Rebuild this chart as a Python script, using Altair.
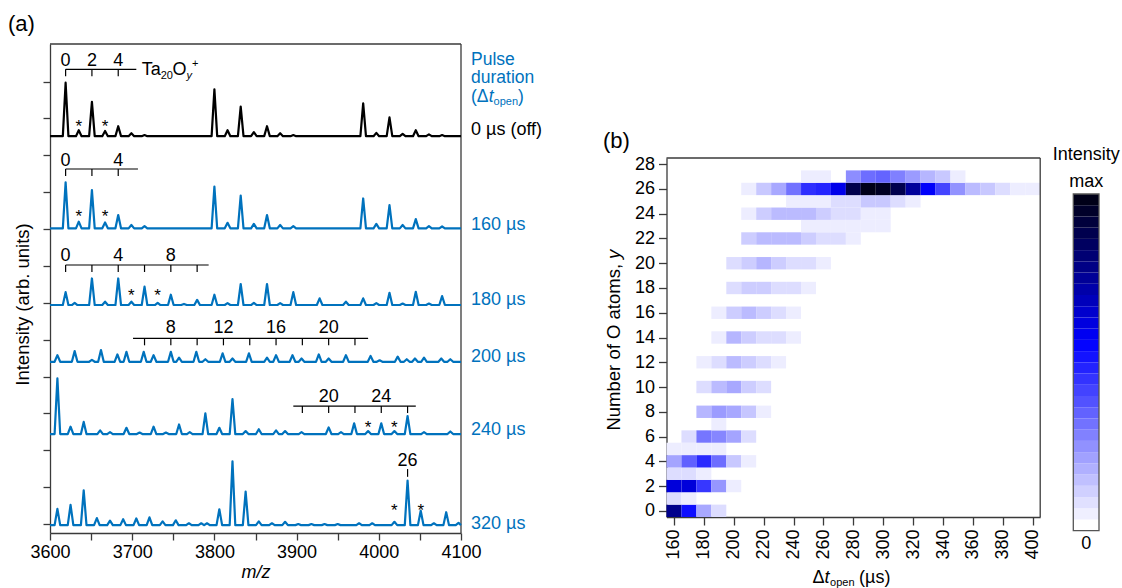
import altair as alt
import pandas as pd

FONT = "Liberation Sans"
BLUE = "#0072BD"
BLACK = "#000000"
FRAME = "#3a3a3a"

# ======================= Panel (a): mass spectra =======================
trace_names = ["0 µs (off)", "160 µs", "180 µs", "200 µs", "240 µs", "320 µs"]
trace_colors = [BLACK, BLUE, BLUE, BLUE, BLUE, BLUE]
trace_offsets = [10.52, 8.02, 5.94, 4.40, 2.44, -0.03]
label_levels = [10.54, 7.97, 5.93, 4.39, 2.41, -0.135]

mz_off = [3619, 3635, 3651, 3667, 3683, 3699, 3715, 3800, 3816, 3832, 3848, 3864, 3880, 3896,
          3981, 3997, 4013, 4029, 4045, 4061, 4077]
h_off = [1.45, 0.16, 0.93, 0.14, 0.27, 0.08, 0.03, 1.27, 0.16, 0.80, 0.11, 0.27, 0.08, 0.03,
         0.89, 0.09, 0.51, 0.06, 0.16, 0.05, 0.03]

mz_160 = [3619, 3635, 3651, 3667, 3683, 3699, 3715, 3800, 3816, 3832, 3848, 3864, 3880, 3896,
          3981, 3997, 4013, 4029, 4045, 4061, 4077]
h_160 = [1.25, 0.18, 1.04, 0.16, 0.36, 0.09, 0.06, 1.13, 0.15, 0.89, 0.12, 0.36, 0.09, 0.06,
         0.81, 0.12, 0.63, 0.09, 0.25, 0.06, 0.05]

mz_180 = [3619, 3630, 3651, 3667, 3683, 3699, 3715, 3731, 3747, 3763, 3779, 3800, 3816, 3832,
          3848, 3864, 3880, 3896, 3928, 3960, 3981, 3997, 4013, 4029, 4045, 4061, 4077]
h_180 = [0.35, 0.06, 0.72, 0.09, 0.72, 0.09, 0.50, 0.06, 0.28, 0.03, 0.14, 0.28, 0.05, 0.57,
         0.06, 0.57, 0.05, 0.35, 0.18, 0.09, 0.18, 0.05, 0.33, 0.04, 0.36, 0.04, 0.24]

mz_200 = [3609, 3630, 3651, 3662, 3682, 3693, 3714, 3726, 3747, 3757, 3778, 3789, 3810, 3822,
          3842, 3864, 3875, 3895, 3906, 3927, 3939, 3960, 3990, 4001, 4023, 4034, 4044, 4055,
          4076, 4087]
h_200 = [0.18, 0.29, 0.05, 0.32, 0.20, 0.27, 0.27, 0.18, 0.27, 0.11, 0.27, 0.07, 0.23, 0.09,
         0.23, 0.11, 0.18, 0.18, 0.09, 0.20, 0.09, 0.18, 0.16, 0.04, 0.14, 0.07, 0.09, 0.11,
         0.09, 0.07]

mz_240 = [3609, 3625, 3641, 3661, 3673, 3693, 3709, 3726, 3741, 3757, 3770, 3789, 3806, 3822,
          3838, 3854, 3875, 3886, 3906, 3939, 3954, 3970, 3987, 4003, 4019, 4035, 4055, 4087]
h_240 = [1.51, 0.20, 0.33, 0.10, 0.05, 0.17, 0.04, 0.20, 0.04, 0.26, 0.05, 0.56, 0.17, 0.95,
         0.08, 0.13, 0.10, 0.08, 0.05, 0.18, 0.05, 0.29, 0.08, 0.29, 0.08, 0.49, 0.05, 0.07]

mz_320 = [3609, 3625, 3641, 3657, 3673, 3689, 3705, 3721, 3737, 3753, 3769, 3784, 3791, 3806,
          3822, 3838, 3854, 3870, 3886, 3902, 3918, 3934, 3950, 3976, 3992, 4019, 4035, 4051,
          4067, 4082, 4097]
h_320 = [0.44, 0.55, 0.94, 0.19, 0.12, 0.16, 0.18, 0.21, 0.10, 0.13, 0.05, 0.05, 0.05, 0.43,
         1.73, 0.91, 0.10, 0.05, 0.09, 0.03, 0.03, 0.03, 0.03, 0.05, 0.05, 0.09, 1.21, 0.39,
         0.05, 0.35, 0.06]

spectra_mz = [mz_off, mz_160, mz_180, mz_200, mz_240, mz_320]
spectra_h = [h_off, h_160, h_180, h_200, h_240, h_320]

# bracket annotations (Ta20Oy+ series markers)
bracket_y = [12.333, 9.629, 7.025, 5.037, 3.200]
bracket_from = [3619, 3619, 3619, 3701, 3896]
bracket_to = [3705, 3707, 3793, 3987, 4045]
bracket_ticks = [
    [3619, 3651, 3683],
    [3619, 3651, 3683],
    [3619, 3651, 3683, 3715, 3747, 3779],
    [3715, 3747, 3779, 3811, 3843, 3875, 3907, 3939, 3971],
    [3907, 3939, 3971, 4003, 4035],
]
bracket_label_y = [12.41, 9.724, 7.141, 5.172, 3.317]
bracket_labels = [
    [("0", 3619), ("2", 3651), ("4", 3683)],
    [("0", 3619), ("4", 3683)],
    [("0", 3619), ("4", 3683), ("8", 3747)],
    [("8", 3747), ("12", 3811), ("16", 3875), ("20", 3939)],
    [("20", 3939), ("24", 4003)],
]
peak26 = ("26", 4035, 1.573, 1.28, 1.49)
stars = [(3635, 10.621), (3667, 10.621), (3635, 8.191), (3667, 8.191), (3699, 6.038),
         (3731, 6.038), (3987, 2.468), (4019, 2.468), (4019, 0.206), (4051, 0.206)]

# ======================= Panel (b): heat map =======================
# O-atom number y -> (first Delta t_open in us, intensities every 10 us)
heat_rows = {
    0: (160, [0.78, 0.53, 0.19, 0.075]),
    1: (160, [0.075, 0.04]),
    2: (160, [0.63, 0.63, 0.44, 0.23, 0.04]),
    3: (160, [0.075, 0.075, 0.04]),
    4: (160, [0.20, 0.35, 0.47, 0.32, 0.12, 0.04]),
    5: (160, [0.04, 0.04, 0.04, 0.04]),
    6: (170, [0.075, 0.30, 0.265, 0.20, 0.075]),
    7: (190, [0.04]),
    8: (180, [0.16, 0.22, 0.19, 0.125, 0.04]),
    10: (180, [0.075, 0.15, 0.19, 0.11, 0.075]),
    12: (180, [0.04, 0.075, 0.15, 0.11, 0.075, 0.04]),
    14: (190, [0.04, 0.16, 0.11, 0.075, 0.075, 0.04]),
    16: (190, [0.04, 0.11, 0.15, 0.11, 0.075, 0.04]),
    18: (200, [0.075, 0.11, 0.11, 0.075, 0.075, 0.04]),
    20: (200, [0.075, 0.11, 0.16, 0.11, 0.075, 0.075, 0.04]),
    22: (210, [0.11, 0.15, 0.15, 0.15, 0.11, 0.075, 0.075, 0.04]),
    23: (250, [0.04, 0.04, 0.04, 0.04, 0.04, 0.04]),
    24: (210, [0.04, 0.11, 0.15, 0.15, 0.15, 0.11, 0.075, 0.075, 0.04, 0.04]),
    25: (240, [0.04, 0.04, 0.04, 0.075, 0.075, 0.12, 0.12, 0.075, 0.04]),
    26: (210, [0.04, 0.12, 0.19, 0.31, 0.46, 0.48, 0.60, 0.90, 1.00, 0.98, 0.90, 0.75, 0.57,
               0.41, 0.24, 0.15, 0.12, 0.075, 0.04, 0.04]),
    27: (250, [0.04, 0.04, 0.0, 0.25, 0.32, 0.34, 0.28, 0.22, 0.16, 0.12, 0.04]),
}
N_BANDS = 30

# ======================= build tables =======================
PEAK_HW = 3.4
line_rows = []
for name, col, off, mzs, hs in zip(trace_names, trace_colors, trace_offsets, spectra_mz, spectra_h):
    pts = [(3600, off)]
    for m, h in zip(mzs, hs):
        pts += [(m - PEAK_HW, off), (m, off + h), (m + PEAK_HW, off)]
    pts.append((4100, off))
    for i, (x, y) in enumerate(pts):
        line_rows.append({"trace": name, "color": col, "order": i, "x": min(x, 4100), "y": y})
lines_df = pd.DataFrame(line_rows)

brk_rows = []
for yb, a, b, ticks in zip(bracket_y, bracket_from, bracket_to, bracket_ticks):
    brk_rows.append({"x": a, "x2": b, "y": yb, "y2": yb})
    for t in ticks:
        brk_rows.append({"x": t, "x2": t, "y": yb, "y2": yb - 0.19})
brk_rows.append({"x": peak26[1], "x2": peak26[1], "y": peak26[3], "y2": peak26[4]})
brk_df = pd.DataFrame(brk_rows)

frameA = pd.DataFrame([{"x": 3600, "x2": 4100, "y": 13.02, "y2": 13.02},
                       {"x": 4100, "x2": 4100, "y": -0.244, "y2": 13.02}])

cols = ["text", "x", "y", "size", "color"]
txtA_center = []
for yl, labs in zip(bracket_label_y, bracket_labels):
    for s, m in labs:
        txtA_center.append((s, m, yl, 18, BLACK))
txtA_center.append((peak26[0], peak26[1], peak26[2], 18, BLACK))
for m, yv in stars:
    txtA_center.append(("*", m, yv, 17, BLACK))

txtA_left = [
    ("(a)", 3548.9, 13.37, 22, BLACK),
    ("Ta", 3711.6, 12.19, 18, BLACK),
    ("20", 3734.6, 12.08, 11, BLACK),
    ("O", 3749.0, 12.19, 18, BLACK),
    ("+", 3772.6, 12.40, 11, BLACK),
    ("Pulse", 4112.2, 12.45, 17.5, BLUE),
    ("duration", 4112.2, 11.96, 17.5, BLUE),
    ("(Δ", 4112.2, 11.45, 17.5, BLUE),
    ("open", 4139.6, 11.36, 11, BLUE),
    (")", 4169.4, 11.45, 17.5, BLUE),
]
for name, col, yl in zip(trace_names, trace_colors, label_levels):
    txtA_left.append((name, 4112.2, yl, 18, col))
txtA_italic = [("y", 3766.2, 12.08, 11, BLACK), ("t", 4133.8, 11.45, 17.5, BLUE)]

cells = []
for oy, (t0, vals) in heat_rows.items():
    for j, v in enumerate(vals):
        if v > 0:
            t = t0 + 10 * j
            cells.append({"x": t - 5, "x2": t + 5, "y": oy - 0.5, "y2": oy + 0.5, "v": v})
heat_df = pd.DataFrame(cells)
frameB = pd.DataFrame([{"x": 155, "x2": 405, "y": 28.5, "y2": 28.5},
                       {"x": 405, "x2": 405, "y": -0.5, "y2": 28.5}])
txtB_left = [("(b)", 112.5, 29.27, 22, BLACK), ("Δ", 252.7, -5.83, 18, BLACK),
             ("open", 264.4, -6.07, 11, BLACK), ("(µs)", 283.8, -5.83, 18, BLACK)]
txtB_italic = [("t", 260.7, -5.83, 18, BLACK)]
txtB_rot = [("Number of O atoms,", 124.2, 19.94, 18.5, BLACK)]
txtB_rot_it = [("y", 124.2, 20.34, 18.5, BLACK)]

band_df = pd.DataFrame({"x": [0.0] * N_BANDS, "x2": [1.0] * N_BANDS,
                        "y": [i / N_BANDS for i in range(N_BANDS)],
                        "y2": [(i + 1) / N_BANDS for i in range(N_BANDS)],
                        "v": [i / (N_BANDS - 1) for i in range(N_BANDS)]})
cbar_frame = pd.DataFrame([{"x": 0.0, "x2": 1.0, "y": 0.0, "y2": 1.0}])
txtC = [("Intensity", 0.5, 1.0995, 18, BLACK), ("max", 0.5, 1.0208, 18, BLACK),
        ("0", 0.5, -0.0543, 18, BLACK)]

# ======================= scales & axes =======================
xA = alt.Scale(domain=[3600, 4100], range=[50, 461], nice=False, zero=False)
yA = alt.Scale(domain=[-0.244, 13.02], range=[533, 44], nice=False, zero=False)
xB = alt.Scale(domain=[155, 405], range=[666.5, 1040.2], nice=False, zero=False)
yB = alt.Scale(domain=[-0.5, 28.5], range=[517, 158], nice=False, zero=False)
xC = alt.Scale(domain=[0, 1], range=[1073.3, 1099], nice=False, zero=False)
yC = alt.Scale(domain=[0, 1], range=[530.7, 194], nice=False, zero=False)
heat_scale = alt.Scale(domain=[0, 0.56, 1], range=["#ffffff", "#0000ff", "#000018"],
                       interpolate="rgb")

common_ax = dict(grid=False, domainColor=FRAME, tickColor=FRAME, domainWidth=1.3,
                 tickWidth=1.3, labelFont=FONT, labelFontSize=18, labelColor=BLACK,
                 titleFont=FONT, titleColor=BLACK, titleFontWeight="normal")
axA_x = alt.Axis(orient="bottom", offset=-55, values=list(range(3600, 4101, 50)),
                 labelExpr="datum.value % 100 === 0 ? format(datum.value, 'd') : ''",
                 tickSize=7, labelPadding=3, labelFlush=False, labelOverlap=False,
                 title="m/z", titleFontStyle="italic", titleFontSize=18, titleY=44,
                 titleBaseline="alphabetic", **common_ax)
axA_y = alt.Axis(orient="left", offset=-50, values=list(range(0, 13)), labels=False,
                 tickSize=7, title="Intensity (arb. units)", titleFontSize=18.5,
                 titleX=-21.5, titleY=304, titleAngle=270, titleAlign="center",
                 titleBaseline="alphabetic", **common_ax)
axB_x = alt.Axis(orient="bottom", offset=-71, values=list(range(160, 401, 20)),
                 labelAngle=270, tickSize=8, labelPadding=4, labelFlush=False,
                 labelOverlap=False, title=None, **common_ax)
axB_y = alt.Axis(orient="left", offset=-666.5, values=list(range(0, 29, 2)), tickSize=8,
                 labelPadding=4, labelFlush=False, labelOverlap=False, title=None,
                 **common_ax)


def enc(xs, ys, axx, axy, two=False):
    e = dict(x=alt.X("x:Q", scale=xs, axis=axx), y=alt.Y("y:Q", scale=ys, axis=axy))
    if two:
        e["x2"] = alt.X2("x2:Q")
        e["y2"] = alt.Y2("y2:Q")
    return e


def texts(rows, xs, ys, axx, axy, **props):
    df = pd.DataFrame(rows, columns=cols)
    return alt.Chart(df).mark_text(font=FONT, baseline="alphabetic", **props).encode(
        text="text:N", size=alt.Size("size:Q", scale=None),
        color=alt.Color("color:N", scale=None), **enc(xs, ys, axx, axy))


A = alt.layer(
    alt.Chart(frameA).mark_rule(color=FRAME, strokeWidth=1.3).encode(**enc(xA, yA, axA_x, axA_y, True)),
    alt.Chart(lines_df).mark_line(strokeWidth=2.2, strokeJoin="round").encode(
        color=alt.Color("color:N", scale=None), detail="trace:N", order="order:Q",
        **enc(xA, yA, axA_x, axA_y)),
    alt.Chart(brk_df).mark_rule(color=BLACK, strokeWidth=1.2).encode(**enc(xA, yA, axA_x, axA_y, True)),
    texts(txtA_center, xA, yA, axA_x, axA_y, align="center"),
    texts(txtA_left, xA, yA, axA_x, axA_y, align="left"),
    texts(txtA_italic, xA, yA, axA_x, axA_y, align="left", fontStyle="italic"),
)

B = alt.layer(
    alt.Chart(heat_df).mark_rect().encode(
        color=alt.Color("v:Q", scale=heat_scale, legend=None), **enc(xB, yB, axB_x, axB_y, True)),
    alt.Chart(frameB).mark_rule(color=FRAME, strokeWidth=1.3).encode(**enc(xB, yB, axB_x, axB_y, True)),
    texts(txtB_left, xB, yB, axB_x, axB_y, align="left"),
    texts(txtB_italic, xB, yB, axB_x, axB_y, align="left", fontStyle="italic"),
    texts(txtB_rot, xB, yB, axB_x, axB_y, align="right", angle=270),
    texts(txtB_rot_it, xB, yB, axB_x, axB_y, align="left", angle=270, fontStyle="italic"),
)

C = alt.layer(
    alt.Chart(band_df).mark_rect().encode(
        color=alt.Color("v:Q", scale=heat_scale, legend=None), **enc(xC, yC, None, None, True)),
    alt.Chart(cbar_frame).mark_rect(fill="transparent", stroke="#555555", strokeWidth=1.3).encode(
        **enc(xC, yC, None, None, True)),
    texts(txtC, xC, yC, None, None, align="center"),
)

chart = (
    alt.layer(A, B, C)
    .resolve_scale(x="independent", y="independent", color="independent")
    .properties(width=1122, height=588, autosize=alt.AutoSizeParams(type="none"), padding=0)
    .configure(font=FONT)
    .configure_view(strokeWidth=0)
)

chart.save("out.html", embed_options={"renderer": "svg", "actions": False})
